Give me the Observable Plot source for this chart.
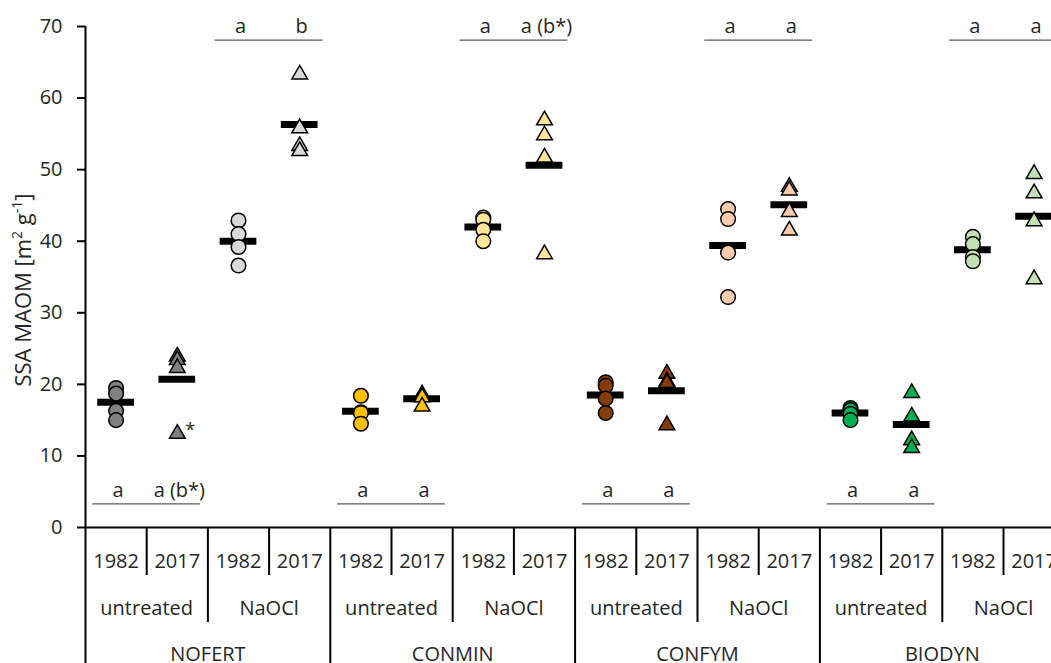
<!DOCTYPE html>
<html><head><meta charset="utf-8">
<script src="https://cdn.jsdelivr.net/npm/d3@7"></script>
<script src="https://cdn.jsdelivr.net/npm/@observablehq/plot@0.6"></script>
<style>
html,body{margin:0;padding:0;overflow:hidden;background:#fff;}
#chart svg{display:block;max-width:none !important;}
</style></head><body><div id="chart"></div>
<script>
// ---- data ----
const groups = ["NOFERT", "CONMIN", "CONFYM", "BIODYN"];
const fractions = ["untreated", "NaOCl"];
const years = ["1982", "2017"];
const yTicks = [0, 10, 20, 30, 40, 50, 60, 70];
const yTitle = ["SSA MAOM [m", "2", " g", "-1", "]"]; // odd parts are superscripts
// fill colours per group: [untreated, NaOCl]
const groupColors = [
  ["#808080", "#d9d9d9"],
  ["#ffc000", "#ffe699"],
  ["#843c0c", "#f8cbad"],
  ["#00b050", "#c5e0b4"]
];
// replicate values, column order: group > fraction > year
const values = [
  [19.5, 18.7, 16.3, 15.0],   // NOFERT untreated 1982
  [23.9, 23.4, 22.3, 13.1],   // NOFERT untreated 2017
  [42.9, 41.0, 39.2, 36.6],   // NOFERT NaOCl 1982
  [63.3, 55.8, 53.3, 52.6],   // NOFERT NaOCl 2017
  [18.4, 16.1, 16.0, 14.5],   // CONMIN untreated 1982
  [18.6, 18.4, 18.2, 16.9],   // CONMIN untreated 2017
  [43.3, 43.0, 41.6, 40.0],   // CONMIN NaOCl 1982
  [56.9, 54.8, 51.7, 38.2],   // CONMIN NaOCl 2017
  [20.3, 19.8, 18.0, 16.0],   // CONFYM untreated 1982
  [21.5, 20.4, 20.2, 14.3],   // CONFYM untreated 2017
  [44.5, 43.1, 38.4, 32.2],   // CONFYM NaOCl 1982
  [47.6, 47.1, 44.1, 41.5],   // CONFYM NaOCl 2017
  [16.7, 16.4, 15.9, 15.0],   // BIODYN untreated 1982
  [18.8, 15.5, 12.2, 11.1],   // BIODYN untreated 2017
  [40.6, 39.6, 37.8, 37.2],   // BIODYN NaOCl 1982
  [49.4, 46.7, 42.8, 34.7]    // BIODYN NaOCl 2017
];
const means = [17.5, 20.7, 40.0, 56.3, 16.25, 18.0, 42.0, 50.6,
               18.5, 19.1, 39.4, 45.1, 16.0, 14.4, 38.8, 43.5];
const letters = ["a", "a (b*)", "a", "b", "a", "a", "a", "a (b*)",
                 "a", "a", "a", "a", "a", "a", "a", "a"];
const outlierNotes = [{col: 1, value: 13.1, note: "*"}];

// ---- derived tables ----
const cols = [];
groups.forEach((g, gi) => fractions.forEach((f, fi) => years.forEach((yr, yi) => {
  const i = gi * 4 + fi * 2 + yi;
  cols.push({i, group: g, fraction: f, year: yr, mean: means[i], letter: letters[i],
             color: groupColors[gi][fi], top: fi === 1});
})));
const points = cols.flatMap(c => values[c.i].map(v => ({i: c.i, v, color: c.color, year: c.year})));
const pairs = [];
groups.forEach((g, gi) => fractions.forEach((f, fi) => pairs.push({first: gi * 4 + fi * 2, fraction: f, top: fi === 1})));
const groupRows = groups.map((g, gi) => ({first: gi * 4, group: g}));
const seps = d3.range(17).map(k => ({x: k - 0.5, level: k % 4 === 0 ? "group" : k % 2 === 0 ? "fraction" : "year"}));

const font = "'Open Sans', 'Noto Sans', sans-serif";
const txt = "#262626";

const chart = Plot.plot({
  width: 1065, height: 663,
  marginLeft: 85, marginRight: 0.8, marginTop: 26, marginBottom: 136,
  style: {fontFamily: font, fontSize: "20px", color: txt, background: "#fff", overflow: "visible", maxWidth: "none"},
  x: {domain: [-0.5, 15.5], axis: null},
  y: {domain: [0, 70], axis: null},
  color: {type: "identity"},
  marks: [
    Plot.axisY({ticks: yTicks, tickSize: 8, tickPadding: 15, fontSize: 20, label: null, stroke: "#000", strokeWidth: 2, fill: txt}),
    Plot.ruleY([0], {stroke: "#000", strokeWidth: 2}),
    Plot.ruleX([-0.5], {y1: 0, y2: 70, stroke: "#000", strokeWidth: 2}),
    Plot.ruleX(seps.filter(d => d.level === "year"), {x: "x", y1: 0, y2: 0, insetBottom: -48, stroke: "#000", strokeWidth: 2}),
    Plot.ruleX(seps.filter(d => d.level === "fraction"), {x: "x", y1: 0, y2: 0, insetBottom: -95, stroke: "#000", strokeWidth: 2}),
    Plot.ruleX(seps.filter(d => d.level === "group"), {x: "x", y1: 0, y2: 0, insetBottom: -140, stroke: "#000", strokeWidth: 2}),
    Plot.text(cols, {x: "i", y: 0, text: "year", dy: 34.5, fontSize: 20, fill: txt}),
    Plot.text(pairs, {x: d => d.first + 0.5, y: 0, text: "fraction", dy: 80.7, fontSize: 20, fill: txt}),
    Plot.text(groupRows, {x: d => d.first + 1.5, y: 0, text: "group", dy: 126.8, fontSize: 20, fill: txt}),
    Plot.text([yTitle.join("")], {frameAnchor: "left", textAnchor: "middle", dx: -61.5, dy: 13, rotate: -90, fontSize: 22, fill: txt, className: "ytitle"}),
    // significance letters
    Plot.ruleY(pairs, {y: d => d.top ? 68.1 : 3.3, x1: d => d.first - 0.38, x2: d => d.first + 1.38, stroke: "#595959", strokeWidth: 1.3}),
    Plot.text(cols, {x: "i", y: d => d.top ? 70 : 5.2, text: "letter", dx: 2, fontSize: 20, fill: txt}),
    // mean bars
    Plot.ruleY(cols, {y: "mean", x1: d => d.i - 0.3, x2: d => d.i + 0.3, stroke: "#000", strokeWidth: 7}),
    // replicates
    Plot.dot(points.filter(d => d.year === "1982"), {x: "i", y: "v", r: 7.3, symbol: "circle", fill: "color", stroke: "#000", strokeWidth: 1.5}),
    Plot.dot(points.filter(d => d.year === "2017"), {x: "i", y: "v", r: 5.83, symbol: "triangle", fill: "color", stroke: "#000", strokeWidth: 1.5}),
    Plot.text(outlierNotes, {x: "col", y: "value", text: "note", dx: 13, dy: -4, fontSize: 18, fill: txt})
  ]
});
// rebuild the y title with true superscripts
d3.select(chart).selectAll("g.ytitle text").each(function () {
  const t = d3.select(this);
  t.text(null);
  yTitle.forEach((part, k) => {
    const s = t.append("tspan").text(part);
    if (k % 2 === 1) s.attr("baseline-shift", "super").attr("font-size", "14px");
  });
});
document.getElementById("chart").appendChild(chart);
</script>
</body></html>
